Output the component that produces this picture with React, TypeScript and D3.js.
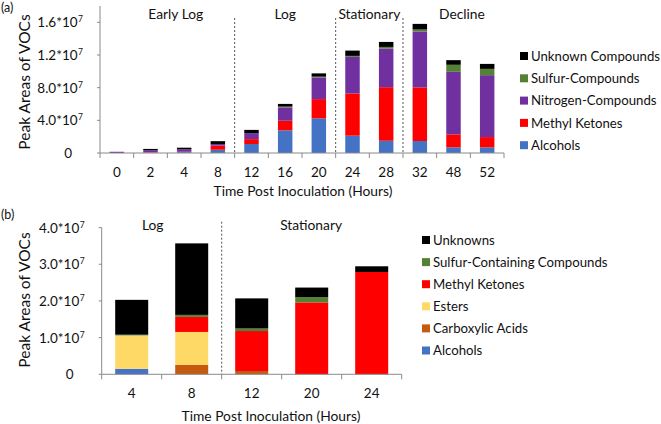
import React from "react";
import * as d3 from "d3";

// ---------- Panel (a) data (values in label units: 4.0 = one "4.0*10^7" tick step) ----------
const timesA = ["0", "2", "4", "8", "12", "16", "20", "24", "28", "32", "48", "52"];
const alcoholsA = [0, 0.05, 0.1, 0.4, 1.1, 2.77, 4.24, 2.12, 1.5, 1.47, 0.69, 0.69];
const methylKetonesA = [0, 0.05, 0.05, 0.5, 0.6, 1.18, 2.36, 5.17, 6.56, 6.56, 1.59, 1.26];
const nitrogenA = [0.15, 0.25, 0.3, 0.2, 0.73, 1.63, 2.65, 4.48, 4.73, 6.85, 7.66, 7.58];
const sulfurA = [0, 0, 0, 0, 0, 0.1, 0.1, 0.12, 0.2, 0.24, 0.86, 0.77];
const unknownA = [0, 0.15, 0.2, 0.35, 0.4, 0.33, 0.4, 0.65, 0.61, 0.69, 0.57, 0.61];
const yTicksA = [0, 4, 8, 12, 16];
const yTickLabelsA = ["0", "4.0*10", "8.0*10", "1.2*10", "1.6*10"];
const phasesA = ["Early Log", "Log", "Stationary", "Decline"];
const phaseCentersA = [2.25, 5.5, 8, 10.75];
const phaseBoundsA = [4, 7, 9];

// ---------- Panel (b) data ----------
const timesB = ["4", "8", "12", "20", "24"];
const alcoholsB = [0.15, 0, 0, 0, 0];
const carboxylicB = [0, 0.255, 0.09, 0, 0];
const estersB = [0.91, 0.9, 0, 0, 0];
const methylKetonesB = [0, 0.41, 1.09, 1.96, 2.79];
const sulfurB = [0.02, 0.055, 0.07, 0.145, 0];
const unknownB = [0.95, 1.95, 0.82, 0.26, 0.155];
const yTicksB = [0, 1, 2, 3, 4];
const yTickLabelsB = ["0", "1.0*10", "2.0*10", "3.0*10", "4.0*10"];
const phasesB = ["Log", "Stationary"];
const phaseCentersB = [0.85, 3.49];
const phaseBoundsB = [2];

const FONT = "Lato, 'Open Sans', sans-serif";
const AXIS = "#8a8a8a";

type Series = { name: string; values: number[]; color: string };

function StackedPanel(props: {
  tag: string;
  tagY: number;
  left: number;
  right: number;
  zeroY: number;
  plotTop: number;
  yMax: number;
  categories: string[];
  series: Series[];
  yTicks: number[];
  yTickLabels: string[];
  phases: string[];
  phaseCenters: number[];
  phaseBounds: number[];
  phaseY: number;
  dashTop: number;
  padding: number;
  legendX: number;
  legendY: number;
  legendStep: number;
  legendFont: number;
  tickLabelY: number;
  xTitleY: number;
  xTitleX: number;
  yTitleY: number;
}) {
  const p = props;
  const x = d3
    .scaleBand<string>()
    .domain(p.categories)
    .range([p.left, p.right])
    .paddingInner(p.padding)
    .paddingOuter(p.padding / 2);
  const xb = d3.scaleLinear().domain([0, p.categories.length]).range([p.left, p.right]);
  const y = d3.scaleLinear().domain([0, p.yMax]).range([p.zeroY, p.plotTop]);
  const rows = p.categories.map((c, i) => {
    const r: any = { cat: c };
    p.series.forEach((s) => (r[s.name] = s.values[i]));
    return r;
  });
  const stack = d3.stack<any>().keys(p.series.map((s) => s.name))(rows);
  const legendOrder = [...p.series].reverse();
  return (
    <g>
      <text x={1} y={p.tagY} fontSize={12.5} fontFamily={FONT} fill="#111">
        {p.tag}
      </text>
      {stack.map((layer, li) => (
        <g key={li} fill={p.series[li].color}>
          {layer.map((d, i) => {
            const h = y(d[0]) - y(d[1]);
            if (h <= 0) return null;
            return <rect key={i} x={x(p.categories[i])} y={y(d[1])} width={x.bandwidth()} height={h} />;
          })}
        </g>
      ))}
      <line x1={p.left} x2={p.left} y1={p.plotTop} y2={p.zeroY} stroke={AXIS} strokeWidth={1} />
      <line x1={p.left} x2={p.right} y1={p.zeroY} y2={p.zeroY} stroke={AXIS} strokeWidth={1} />
      {p.yTicks.map((t, i) => (
        <g key={i}>
          <line x1={p.left - 3} x2={p.left} y1={y(t)} y2={y(t)} stroke={AXIS} />
          {t === 0 ? (
            <text x={p.left - 28} y={y(t) + 5} textAnchor="end" fontSize={13.5} fontFamily={FONT} fill="#111">
              {p.yTickLabels[i]}
            </text>
          ) : (
            <text x={p.left - 17} y={y(t) + 5} textAnchor="end" fontSize={13.5} fontFamily={FONT} fill="#111">
              {p.yTickLabels[i]}
              <tspan fontSize={8.5} dy={-5} dx={0.5}>
                7
              </tspan>
            </text>
          )}
        </g>
      ))}
      {d3.range(p.categories.length + 1).map((k) => (
        <line key={k} x1={xb(k)} x2={xb(k)} y1={p.zeroY} y2={p.zeroY + 5} stroke={AXIS} />
      ))}
      {p.categories.map((c) => (
        <text key={c} x={x(c)! + x.bandwidth() / 2} y={p.tickLabelY} textAnchor="middle" fontSize={13.5} fontFamily={FONT} fill="#111">
          {c}
        </text>
      ))}
      {p.phaseBounds.map((b) => (
        <line key={b} x1={xb(b)} x2={xb(b)} y1={p.dashTop} y2={p.zeroY} stroke="#555" strokeDasharray="2,2" strokeWidth={1} />
      ))}
      {p.phases.map((ph, i) => (
        <text key={ph} x={xb(p.phaseCenters[i])} y={p.phaseY} textAnchor="middle" fontSize={13.8} fontFamily={FONT} fill="#111">
          {ph}
        </text>
      ))}
      <text x={p.xTitleX} y={p.xTitleY} textAnchor="middle" fontSize={13.8} fontFamily={FONT} fill="#111">
        Time Post Inoculation (Hours)
      </text>
      <text
        transform={`translate(30,${p.yTitleY}) rotate(-90)`}
        textAnchor="middle"
        fontSize={15.5}
        fontFamily={FONT}
        fill="#111"
      >
        Peak Areas of VOCs
      </text>
      {legendOrder.map((s, i) => (
        <g key={s.name} transform={`translate(${p.legendX},${p.legendY + i * p.legendStep})`}>
          <rect x={0} y={-4} width={8} height={8} fill={s.color} />
          <text x={11} y={p.legendFont * 0.36} fontSize={p.legendFont} fontFamily={FONT} fill="#111">
            {s.name}
          </text>
        </g>
      ))}
    </g>
  );
}

export default function App() {
  const seriesA: Series[] = [
    { name: "Alcohols", values: alcoholsA, color: "#4472C4" },
    { name: "Methyl Ketones", values: methylKetonesA, color: "#FF0000" },
    { name: "Nitrogen-Compounds", values: nitrogenA, color: "#7030A0" },
    { name: "Sulfur-Compounds", values: sulfurA, color: "#548235" },
    { name: "Unknown Compounds", values: unknownA, color: "#000000" },
  ];
  const seriesB: Series[] = [
    { name: "Alcohols", values: alcoholsB, color: "#4472C4" },
    { name: "Carboxylic Acids", values: carboxylicB, color: "#C55A11" },
    { name: "Esters", values: estersB, color: "#FFD966" },
    { name: "Methyl Ketones", values: methylKetonesB, color: "#FF0000" },
    { name: "Sulfur-Containing Compounds", values: sulfurB, color: "#548235" },
    { name: "Unknowns", values: unknownB, color: "#000000" },
  ];
  return (
    <div style={{ position: "absolute", left: 0, top: 0 }}>
      <svg width={661} height={424} style={{ display: "block", background: "#fff" }}>
        <StackedPanel
          tag="(a)"
          tagY={12}
          left={100}
          right={504}
          zeroY={153}
          plotTop={6}
          yMax={18}
          categories={timesA}
          series={seriesA}
          yTicks={yTicksA}
          yTickLabels={yTickLabelsA}
          phases={phasesA}
          phaseCenters={phaseCentersA}
          phaseBounds={phaseBoundsA}
          phaseY={19}
          dashTop={18}
          padding={0.57}
          legendX={520}
          legendY={56}
          legendStep={22.3}
          legendFont={13.2}
          tickLabelY={177}
          xTitleY={196}
          xTitleX={303}
          yTitleY={82}
        />
        <StackedPanel
          tag="(b)"
          tagY={219}
          left={101.7}
          right={401.7}
          zeroY={374.3}
          plotTop={227.6}
          yMax={4}
          categories={timesB}
          series={seriesB}
          yTicks={yTicksB}
          yTickLabels={yTickLabelsB}
          phases={phasesB}
          phaseCenters={phaseCentersB}
          phaseBounds={phaseBoundsB}
          phaseY={229.5}
          dashTop={221.7}
          padding={0.45}
          legendX={422}
          legendY={240}
          legendStep={22.1}
          legendFont={13.2}
          tickLabelY={398}
          xTitleY={421}
          xTitleX={271}
          yTitleY={300}
        />
      </svg>
    </div>
  );
}
